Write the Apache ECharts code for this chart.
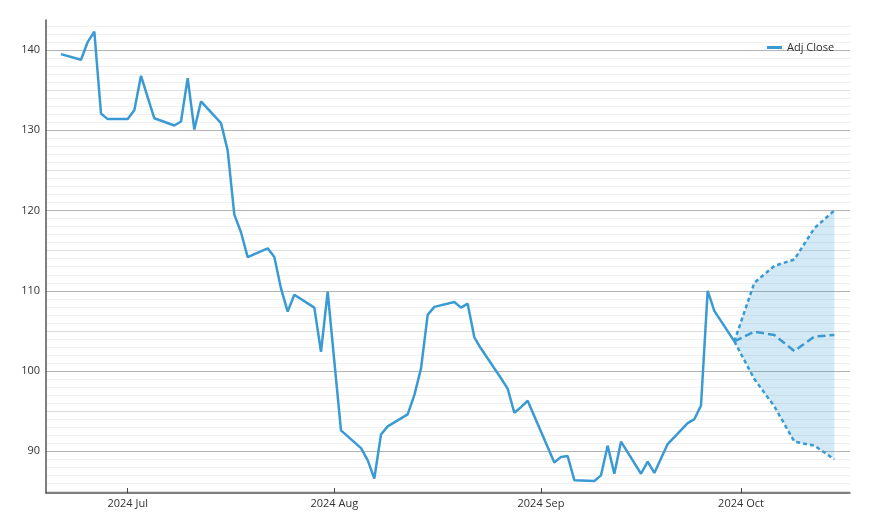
<!DOCTYPE html>
<html>
<head>
<meta charset="utf-8">
<script src="https://cdn.jsdelivr.net/npm/echarts@6/dist/echarts.min.js"></script>
<style>
html,body{margin:0;padding:0;background:#fff;}
#chart{width:870px;height:531px;}
</style>
</head>
<body>
<div id="chart"></div>
<script>
// ---- data ----
const dates = [
 '2024-06-21','2024-06-24','2024-06-25','2024-06-26','2024-06-27','2024-06-28',
 '2024-07-01','2024-07-02','2024-07-03','2024-07-05','2024-07-08','2024-07-09','2024-07-10','2024-07-11','2024-07-12',
 '2024-07-15','2024-07-16','2024-07-17','2024-07-18','2024-07-19','2024-07-22','2024-07-23','2024-07-24','2024-07-25','2024-07-26',
 '2024-07-29','2024-07-30','2024-07-31','2024-08-01','2024-08-02','2024-08-05','2024-08-06','2024-08-07','2024-08-08','2024-08-09',
 '2024-08-12','2024-08-13','2024-08-14','2024-08-15','2024-08-16','2024-08-19','2024-08-20','2024-08-21','2024-08-22','2024-08-23',
 '2024-08-26','2024-08-27','2024-08-28','2024-08-29','2024-08-30','2024-09-03','2024-09-04','2024-09-05','2024-09-06',
 '2024-09-09','2024-09-10','2024-09-11','2024-09-12','2024-09-13','2024-09-16','2024-09-17','2024-09-18','2024-09-19','2024-09-20',
 '2024-09-23','2024-09-24','2024-09-25','2024-09-26','2024-09-27','2024-09-30'
];
const adjClose = [
 139.5,138.8,141.0,142.3,132.1,131.4,
 131.4,132.5,136.8,131.5,130.6,131.1,136.5,130.1,133.6,
 130.9,127.5,119.5,117.3,114.2,115.3,114.2,110.3,107.4,109.5,
 107.9,102.4,109.9,101.2,92.6,90.4,88.9,86.6,92.1,93.1,
 94.6,97.0,100.3,107.0,108.0,108.6,107.9,108.4,104.2,102.8,
 99.1,97.8,94.8,95.5,96.3,88.6,89.3,89.4,86.4,
 86.3,87.0,90.7,87.2,91.2,87.2,88.7,87.3,89.1,90.9,
 93.5,94.0,95.7,110.0,107.5,103.7
];
const forecastDates = ['2024-09-30','2024-10-03','2024-10-06','2024-10-09','2024-10-12','2024-10-15'];
const forecastMid   = [103.7,104.9,104.5,102.5,104.3,104.5];
const forecastUpper = [103.7,111.0,113.1,113.9,117.8,120.0];
const forecastLower = [103.7,99.0,95.6,91.2,90.7,89.0];
const yTickLabels = [90,100,110,120,130,140];
const monthTicks = ['2024-07-01','2024-08-01','2024-09-01','2024-10-01'];
const monthNames = ['Jan','Feb','Mar','Apr','May','Jun','Jul','Aug','Sep','Oct','Nov','Dec'];

// ---- helpers ----
function ts(s){ const p=s.split('-').map(Number); return new Date(p[0],p[1]-1,p[2]).getTime(); }
const pairs = (ds, vs) => ds.map((d,i)=>[ts(d), vs[i]]);

const majorGrid=[], midGrid=[], minorGrid=[];
for(let v=85; v<=143; v++){
  if(v%10===0) majorGrid.push(v);
  else if(v%5===0) midGrid.push(v);
  else minorGrid.push(v);
}
function gridSeries(vals,color,name){
  return {name:name,type:'line',data:[],z:0,silent:true,
    markLine:{silent:true,z:0,symbol:['none','none'],animation:false,label:{show:false},
      lineStyle:{color:color,type:'solid',width:1},
      emphasis:{disabled:true},
      data:vals.map(v=>({yAxis:v}))}};
}

const lineColor='#3a9ad4';
const font="'Segoe UI','Open Sans','Noto Sans',sans-serif";
const bandData = forecastDates.map((d,i)=>[ts(d), forecastLower[i], forecastUpper[i]]);

const chart = echarts.init(document.getElementById('chart'), null, {renderer:'canvas'});
chart.setOption({
  animation:false,
  backgroundColor:'#fff',
  grid:{left:46,right:20,top:20,bottom:38,containLabel:false},
  legend:{
    data:[{name:'Adj Close',icon:'rect'}], left:762, top:37, itemWidth:15, itemHeight:3, itemGap:5,
    textStyle:{fontSize:11,color:'#333',fontFamily:font}
  },
  xAxis:{
    type:'value',
    min:new Date(2024,5,18,18).getTime(),
    max:new Date(2024,9,17,8,24).getTime(),
    splitLine:{show:false},
    axisLine:{show:true,onZero:false,lineStyle:{color:'#555',width:1.5}},
    axisTick:{show:true,inside:true,length:5,lineStyle:{color:'#444'},customValues:monthTicks.map(ts)},
    axisLabel:{
      customValues:monthTicks.map(ts), margin:5, color:'#333', fontSize:11, fontFamily:font,
      formatter:function(v){ const d=new Date(v); return d.getFullYear()+' '+monthNames[d.getMonth()]; }
    }
  },
  yAxis:{
    type:'value', min:84.8, max:143.75,
    splitLine:{show:false},
    axisLine:{show:true,onZero:false,lineStyle:{color:'#555',width:1.5}},
    axisTick:{show:false},
    axisLabel:{customValues:yTickLabels, margin:6, color:'#333', fontSize:11, fontFamily:font}
  },
  series:[
    gridSeries(minorGrid,'#f1f1f1','g1'),
    gridSeries(midGrid,'#dedede','g2'),
    gridSeries(majorGrid,'#b3b3b3','g3'),
    {name:'band',type:'custom',data:bandData,z:2,silent:true,
      encode:{x:0,y:[1,2]},
      renderItem:function(params,api){
        if(params.dataIndex!==0) return null;
        const lo=[], up=[];
        for(let i=0;i<bandData.length;i++){
          lo.push(api.coord([bandData[i][0],bandData[i][1]]));
          up.push(api.coord([bandData[i][0],bandData[i][2]]));
        }
        const pts = lo.concat(up.reverse());
        return {type:'polygon',shape:{points:pts},style:{fill:'rgba(58,154,212,0.22)',stroke:null}};
      }
    },
    {name:'Adj Close',type:'line',data:pairs(dates,adjClose),symbol:'none',
      lineStyle:{color:lineColor,width:2.5},itemStyle:{color:lineColor},z:4},
    {name:'upper',type:'line',data:pairs(forecastDates,forecastUpper),symbol:'none',
      lineStyle:{color:lineColor,width:2.5,type:[4,3]},z:4},
    {name:'lower',type:'line',data:pairs(forecastDates,forecastLower),symbol:'none',
      lineStyle:{color:lineColor,width:2.5,type:[4,3]},z:4},
    {name:'mid',type:'line',data:pairs(forecastDates,forecastMid),symbol:'none',
      lineStyle:{color:lineColor,width:2.5,type:[8,4]},z:4}
  ]
});
</script>
</body>
</html>
